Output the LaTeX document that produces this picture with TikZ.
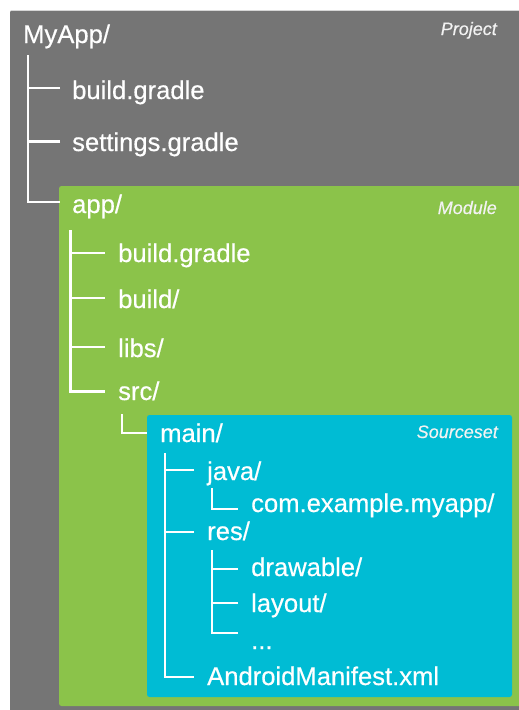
\documentclass[tikz,border=0pt]{standalone}
\usepackage{fontspec}
\setmainfont[FakeBold=0.5]{Liberation Sans}
\definecolor{projgray}{HTML}{757575}
\definecolor{modgreen}{HTML}{8BC34A}
\definecolor{srcblue}{HTML}{00BCD4}
\definecolor{edgegray}{HTML}{D6D6D6}
\begin{document}
\begin{tikzpicture}[x=1pt,y=-1pt,
  item/.style={anchor=base west, inner sep=0pt, text=white, font=\fontsize{25.6}{30}\selectfont},
  tag/.style={anchor=base east, inner sep=0pt, text=white!95!black, font=\fontsize{18}{22}\selectfont\itshape},
  tree/.style={draw=white, line width=2.9pt, line join=miter, line cap=butt},
  panel/.style={rounded corners=2.5pt}]
\useasboundingbox (0,0) rectangle (519,710);
% panels
\fill[projgray, panel] (10,10) rectangle (540,730);
\draw[edgegray, line width=1pt] (11,10.5) -- (519,10.5);
\fill[modgreen, panel] (59,186) rectangle (540,706);
\fill[srcblue, panel] (147,415) rectangle (512,697);
% labels
\node[tag] (lproj) at (497,35) {Project};
\node[tag] (lmod) at (497,214) {Module};
\node[tag] (lsrc) at (498,438) {Sourceset};
% items
\node[item] (myapp) at (23,43) {MyApp/};
\node[item] (pbuild) at (72,99) {build.gradle};
\node[item] (settings) at (72,151) {settings.gradle};
\node[item] (app) at (72,213) {app/};
\node[item] (abuild) at (118,262) {build.gradle};
\node[item] (abuilddir) at (118,308) {build/};
\node[item] (libs) at (118,357) {libs/};
\node[item] (src) at (118,400) {src/};
\node[item] (main) at (160,442) {main/};
\node[item] (java) at (207,480) {java/};
\node[item] (pkg) at (251,512) {com.example.myapp/};
\node[item] (res) at (207,540) {res/};
\node[item] (drawable) at (251,576) {drawable/};
\node[item] (layout) at (251,612) {layout/};
\node[item] (more) at (251,649) {...};
\node[item] (manifest) at (207,685) {AndroidManifest.xml};
% tree: MyApp
\coordinate (t1) at ([xshift=5pt,yshift=-12pt]myapp.base west);
\draw[tree] (t1) |- ([xshift=-12pt,yshift=11pt]app.base west);
\draw[tree] ([xshift=-12pt,yshift=11pt]pbuild.base west) coordinate (h) -- (h -| t1);
\draw[tree] ([xshift=-12pt,yshift=9.5pt]settings.base west) coordinate (h) -- (h -| t1);
% tree: app
\coordinate (t2) at ([xshift=-1.5pt,yshift=-17pt]app.base west);
\draw[tree] (t2) |- ([xshift=-13pt,yshift=8.5pt]src.base west);
\draw[tree] ([xshift=-13pt,yshift=9pt]abuild.base west) coordinate (h) -- (h -| t2);
\draw[tree] ([xshift=-13pt,yshift=10pt]abuilddir.base west) coordinate (h) -- (h -| t2);
\draw[tree] ([xshift=-13pt,yshift=10pt]libs.base west) coordinate (h) -- (h -| t2);
% tree: src
\coordinate (t3) at ([xshift=4pt,yshift=-14pt]src.base west);
\draw[tree] (t3) |- ([xshift=-13pt,yshift=9pt]main.base west);
% tree: main
\coordinate (t4) at ([xshift=5pt,yshift=-11pt]main.base west);
\draw[tree] (t4) |- ([xshift=-13pt,yshift=8pt]manifest.base west);
\draw[tree] ([xshift=-13pt,yshift=10pt]java.base west) coordinate (h) -- (h -| t4);
\draw[tree] ([xshift=-13pt,yshift=8pt]res.base west) coordinate (h) -- (h -| t4);
% tree: java
\coordinate (t5) at ([xshift=5pt,yshift=-8pt]java.base west);
\draw[tree] (t5) |- ([xshift=-13pt,yshift=3pt]pkg.base west);
% tree: res
\coordinate (t6) at ([xshift=5pt,yshift=-10pt]res.base west);
\draw[tree] (t6) |- ([xshift=-13pt,yshift=16pt]more.base west);
\draw[tree] ([xshift=-13pt,yshift=7pt]drawable.base west) coordinate (h) -- (h -| t6);
\draw[tree] ([xshift=-13pt,yshift=9pt]layout.base west) coordinate (h) -- (h -| t6);
\end{tikzpicture}
\end{document}
